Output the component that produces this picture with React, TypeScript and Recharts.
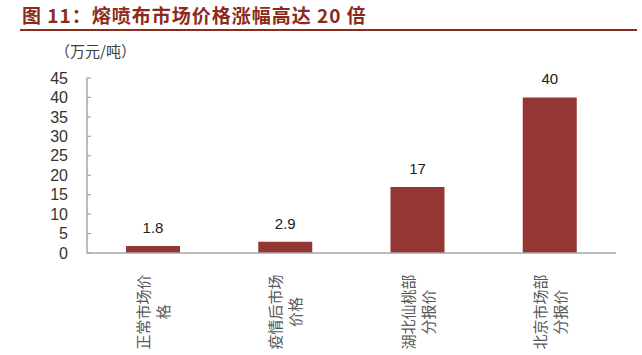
import React from "react";
import { BarChart, Bar, XAxis, YAxis, LabelList } from "recharts";

const categories = ["正常市场价格", "疫情后市场价格", "湖北仙桃部分报价", "北京市场部分报价"];
const categoryLines = [
  ["正常市场价", "格"],
  ["疫情后市场", "价格"],
  ["湖北仙桃部", "分报价"],
  ["北京市场部", "分报价"],
];
const values = [1.8, 2.9, 17, 40];
const yTicks = [0, 5, 10, 15, 20, 25, 30, 35, 40, 45];
const boundaryTicks = [0, 1, 2, 3, 4];

const data = categories.map((c, i) => ({ name: c, value: values[i], idx: i }));

const RED = "#943634";
const TITLE = "#8c2b1c";
const AXIS = "#a6a6a6";

const CategoryTick = (props: any) => {
  const { x, y, payload } = props;
  const i = categories.indexOf(payload.value);
  const lines = i >= 0 ? categoryLines[i] : [payload.value];
  return (
    <g transform={`translate(${x},${y})`}>
      <text
        transform="rotate(-90)"
        textAnchor="middle"
        fontSize={15}
        fill="#595959"
        fontFamily="'Noto Sans CJK SC', sans-serif"
      >
        {lines.map((l, k) => (
          <tspan key={k} x={-59} y={-4 + k * 20}>
            {l}
          </tspan>
        ))}
      </text>
    </g>
  );
};

export default function App() {
  return (
    <div style={{ position: "absolute", left: 0, top: 0, width: 642, height: 355, background: "#fff" }}>
      <div
        style={{
          position: "absolute",
          left: 22,
          top: 3,
          fontSize: 19,
          letterSpacing: 1,
          fontWeight: 700,
          color: TITLE,
          fontFamily: "'Noto Sans CJK SC', sans-serif",
          whiteSpace: "nowrap",
          lineHeight: "24px",
        }}
      >
        图 11：熔喷布市场价格涨幅高达 20 倍
      </div>
      <div style={{ position: "absolute", left: 20, top: 29, width: 617, height: 2, background: TITLE }} />
      <div
        style={{
          position: "absolute",
          left: 55,
          top: 41,
          fontSize: 15,
          color: "#404040",
          fontFamily: "'Noto Sans CJK SC', sans-serif",
          whiteSpace: "nowrap",
          lineHeight: "20px",
        }}
      >
        （万元/吨）
      </div>
      <div style={{ position: "absolute", left: 0, top: 0 }}>
        <BarChart
          width={642}
          height={355}
          data={data}
          margin={{ top: 78, right: 26, bottom: 100, left: 0 }}
        >
          <XAxis
            xAxisId="cat"
            dataKey="name"
            height={1}
            axisLine={{ stroke: AXIS, strokeWidth: 1.5 }}
            tickLine={false}
            tickSize={0}
            tickMargin={0}
            interval={0}
            tick={<CategoryTick />}
          />
          <XAxis
            xAxisId="tk"
            type="number"
            dataKey="idx"
            domain={[0, 4]}
            ticks={boundaryTicks}
            height={1}
            axisLine={false}
            tick={false}
            tickSize={-5}
            tickLine={{ stroke: AXIS, strokeWidth: 1.2 }}
          />
          <YAxis
            width={87}
            domain={[0, 45]}
            ticks={yTicks}
            interval={0}
            axisLine={{ stroke: AXIS, strokeWidth: 1.5 }}
            tickLine={{ stroke: AXIS, strokeWidth: 1.2 }}
            tickSize={-4}
            tickMargin={23}
            tick={{ fontSize: 16, fill: "#333", fontFamily: "'Liberation Sans', Arial, sans-serif" }}
          />
          <Bar xAxisId="cat" dataKey="value" fill={RED} barSize={54} isAnimationActive={false}>
            <LabelList
              dataKey="value"
              position="top"
              offset={13}
              fontSize={15}
              fill="#222"
              fontFamily="'Liberation Sans', Arial, sans-serif"
            />
          </Bar>
        </BarChart>
      </div>
    </div>
  );
}
